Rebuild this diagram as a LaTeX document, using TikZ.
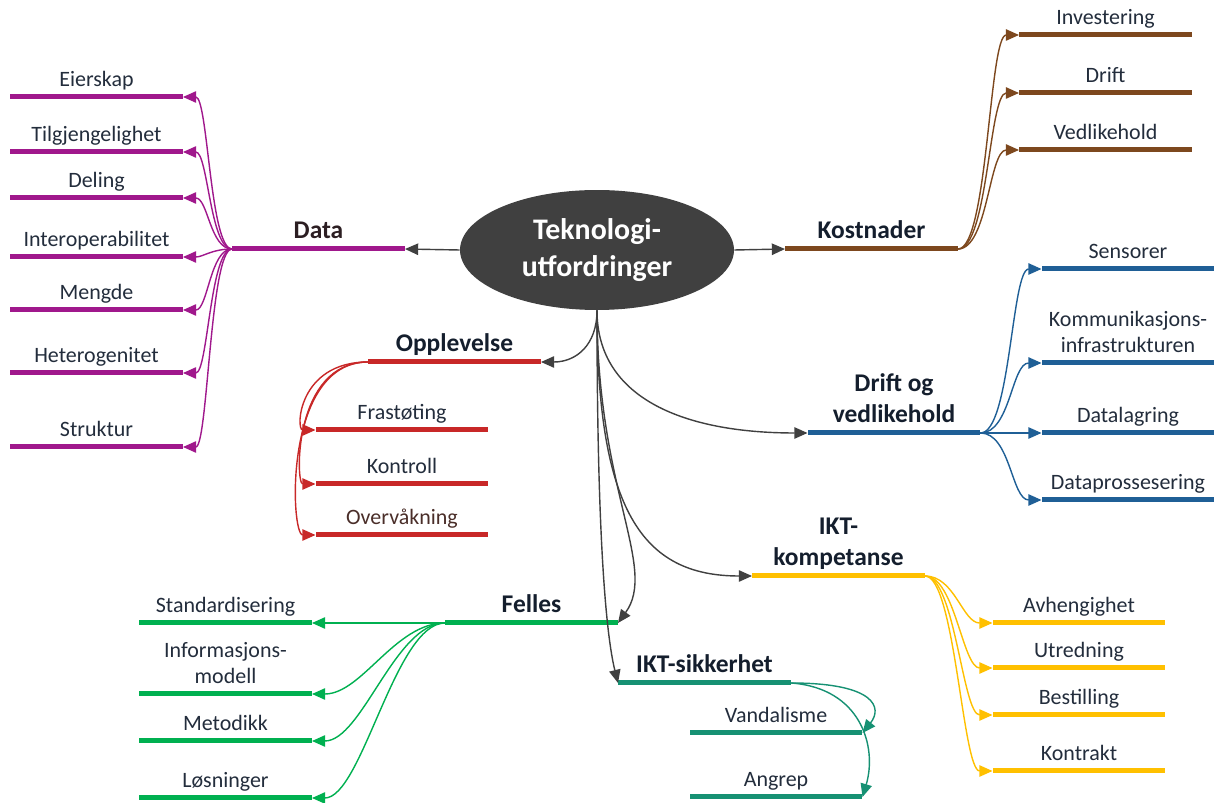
\documentclass[tikz,border=0pt]{standalone}
\usepackage{fontspec}
\setmainfont{Carlito}
\usetikzlibrary{shapes.geometric,arrows.meta}
\definecolor{purp}{RGB}{160,24,140}
\definecolor{brown}{RGB}{125,72,30}
\definecolor{blue}{RGB}{31,95,150}
\definecolor{red}{RGB}{200,40,40}
\definecolor{green}{RGB}{0,176,80}
\definecolor{teal}{RGB}{22,145,115}
\definecolor{yellow}{RGB}{255,192,0}
\definecolor{hub}{RGB}{64,64,64}
\definecolor{txt}{RGB}{35,45,60}
\definecolor{ttl}{RGB}{20,30,45}
\begin{document}
\begin{tikzpicture}[x=0.02cm,y=-0.02cm, every node/.style={font=\fontsize{12.5}{15}\selectfont},
  hbar/.style={fill=#1, minimum width=3.46cm, minimum height=0.1cm, inner sep=0pt, outer sep=0pt},
  lab/.style={text=txt, align=center, inner sep=2pt, text depth=0.22em},
  blab/.style={lab, text=ttl, font=\bfseries\fontsize{14.5}{18}\selectfont},
  link/.style={#1, line width=0.8pt, -{Triangle[length=7.5pt,width=6.5pt]}}]
\useasboundingbox (0,0) rectangle (1215,803);
% centre
\node[ellipse, fill=hub, text=white, font=\bfseries\fontsize{17}{21}\selectfont, align=center,
  minimum width=5.48cm, minimum height=2.4cm, inner sep=0pt] (ctr) at (597,250) {Teknologi-\\utfordringer};
% Data
\node[hbar=purp, label={[blab,text={rgb,255:red,50;green,10;blue,40}]above:Data}] (data) at (318.5,249) {};
\node[hbar=purp, label={[lab]above:Eierskap}] (eier) at (96.5,97) {};
\node[hbar=purp, label={[lab]above:Tilgjengelighet}] (tilg) at (96.5,152) {};
\node[hbar=purp, label={[lab]above:Deling}] (deling) at (96.5,198) {};
\node[hbar=purp, label={[lab]above:Interoperabilitet}] (interop) at (96.5,257) {};
\node[hbar=purp, label={[lab]above:Mengde}] (mengde) at (96.5,310) {};
\node[hbar=purp, label={[lab]above:Heterogenitet}] (hetero) at (96.5,373) {};
\node[hbar=purp, label={[lab]above:Struktur}] (strukt) at (96.5,447) {};
% Kostnader
\node[hbar=brown, label={[blab]above:Kostnader}] (kost) at (871.5,249) {};
\node[hbar=brown, label={[lab]above:Investering}] (invest) at (1105.5,35) {};
\node[hbar=brown, label={[lab]above:Drift}] (driftk) at (1105.5,93) {};
\node[hbar=brown, label={[lab]above:Vedlikehold}] (vedlk) at (1105.5,150) {};
% Drift og vedlikehold
\node[hbar=blue, label={[blab]above:{Drift og\\vedlikehold}}] (dov) at (894,433) {};
\node[hbar=blue, label={[lab]above:Sensorer}] (sens) at (1128,269) {};
\node[hbar=blue, label={[lab]above:{Kommunikasjons-\\infrastrukturen}}] (komm) at (1128,363) {};
\node[hbar=blue, label={[lab]above:Datalagring}] (lagr) at (1128,433) {};
\node[hbar=blue, label={[lab]above:Dataprossesering}] (prosess) at (1128,500) {};
% Opplevelse
\node[hbar=red, label={[blab]above:Opplevelse}] (oppl) at (454.5,362) {};
\node[hbar=red, label={[lab]above:Frastøting}] (frast) at (402,430) {};
\node[hbar=red, label={[lab]above:Kontroll}] (kontr) at (402,484) {};
\node[hbar=red, label={[lab,text={rgb,255:red,90;green,30;blue,30}]above:Overvåkning}] (overv) at (402,535) {};
% Felles
\node[hbar=green, label={[blab]above:Felles}] (felles) at (531.5,623) {};
\node[hbar=green, label={[lab]above:Standardisering}] (stand) at (225.5,623) {};
\node[hbar=green, label={[lab]above:{Informasjons-\\modell}}] (infmod) at (225.5,694) {};
\node[hbar=green, label={[lab]above:Metodikk}] (metod) at (225.5,741) {};
\node[hbar=green, label={[lab]above:Løsninger}] (losn) at (225.5,798) {};
% IKT-sikkerhet
\node[hbar=teal, label={[blab]above:IKT-sikkerhet}] (iktsik) at (704.5,683) {};
\node[hbar=teal, label={[lab]above:Vandalisme}] (vand) at (776,733) {};
\node[hbar=teal, label={[lab]above:Angrep}] (angr) at (776,797) {};
% IKT-kompetanse
\node[hbar=yellow, label={[blab]above:{IKT-\\kompetanse}}] (iktkomp) at (838.5,576) {};
\node[hbar=yellow, label={[lab]above:Avhengighet}] (avh) at (1079,623) {};
\node[hbar=yellow, label={[lab]above:Utredning}] (utr) at (1079,668) {};
\node[hbar=yellow, label={[lab]above:Bestilling}] (best) at (1079,715) {};
\node[hbar=yellow, label={[lab]above:Kontrakt}] (kontrakt) at (1079,771) {};

% from the centre
\draw[link=hub] (ctr.west) -- (data.east);
\draw[link=hub] (ctr.east) -- (kost.west);
\draw[link=hub] (ctr.south) .. controls +(0,35) and +(35,0) .. (oppl.east);
\draw[link=hub] (ctr.south) .. controls +(0,90) and +(-120,0) .. (dov.west);
\draw[link=hub] (ctr.south) .. controls +(0,200) and +(-110,0) .. (iktkomp.west);
\draw[link=hub] (ctr.south) .. controls +(0,180) and +(40,-55) .. (felles.east);
\draw[link=hub] (ctr.south) .. controls +(0,250) and +(-10,-40) .. (iktsik.west);
% Data
\draw[link=purp] (data.west) .. controls +(-22,0) and +(25,0) .. (eier.east);
\draw[link=purp] (data.west) .. controls +(-22,0) and +(25,0) .. (tilg.east);
\draw[link=purp] (data.west) .. controls +(-22,0) and +(25,0) .. (deling.east);
\draw[link=purp] (data.west) .. controls +(-20,0) and +(20,0) .. (interop.east);
\draw[link=purp] (data.west) .. controls +(-22,0) and +(25,0) .. (mengde.east);
\draw[link=purp] (data.west) .. controls +(-22,0) and +(25,0) .. (hetero.east);
\draw[link=purp] (data.west) .. controls +(-22,0) and +(25,0) .. (strukt.east);
% Kostnader
\draw[link=brown] (kost.east) .. controls +(30,0) and +(-30,0) .. (invest.west);
\draw[link=brown] (kost.east) .. controls +(30,0) and +(-30,0) .. (driftk.west);
\draw[link=brown] (kost.east) .. controls +(30,0) and +(-30,0) .. (vedlk.west);
% Drift og vedlikehold
\draw[link=blue] (dov.east) .. controls +(30,0) and +(-30,0) .. (sens.west);
\draw[link=blue] (dov.east) .. controls +(30,0) and +(-30,0) .. (komm.west);
\draw[link=blue] (dov.east) -- (lagr.west);
\draw[link=blue] (dov.east) .. controls +(30,0) and +(-30,0) .. (prosess.west);
% Opplevelse
\draw[link=red] (oppl.west) .. controls +(-70,0) and +(-20,0) .. (frast.west);
\draw[link=red] (oppl.west) .. controls +(-75,0) and +(-20,0) .. (kontr.west);
\draw[link=red] (oppl.west) .. controls +(-85,0) and +(-25,0) .. (overv.west);
% Felles
\draw[link=green] (felles.west) -- (stand.east);
\draw[link=green] (felles.west) .. controls +(-50,0) and +(50,0) .. (infmod.east);
\draw[link=green] (felles.west) .. controls +(-50,0) and +(50,0) .. (metod.east);
\draw[link=green] (felles.west) .. controls +(-50,0) and +(50,0) .. (losn.east);
% IKT-sikkerhet
\draw[link=teal] (iktsik.east) .. controls +(85,0) and +(20,-25) .. (vand.east);
\draw[link=teal] (iktsik.east) .. controls +(70,5) and +(15,-50) .. (angr.east);
% IKT-kompetanse
\draw[link=yellow] (iktkomp.east) .. controls +(30,0) and +(-30,0) .. (avh.west);
\draw[link=yellow] (iktkomp.east) .. controls +(30,0) and +(-30,0) .. (utr.west);
\draw[link=yellow] (iktkomp.east) .. controls +(30,0) and +(-30,0) .. (best.west);
\draw[link=yellow] (iktkomp.east) .. controls +(30,0) and +(-30,0) .. (kontrakt.west);
\end{tikzpicture}
\end{document}
